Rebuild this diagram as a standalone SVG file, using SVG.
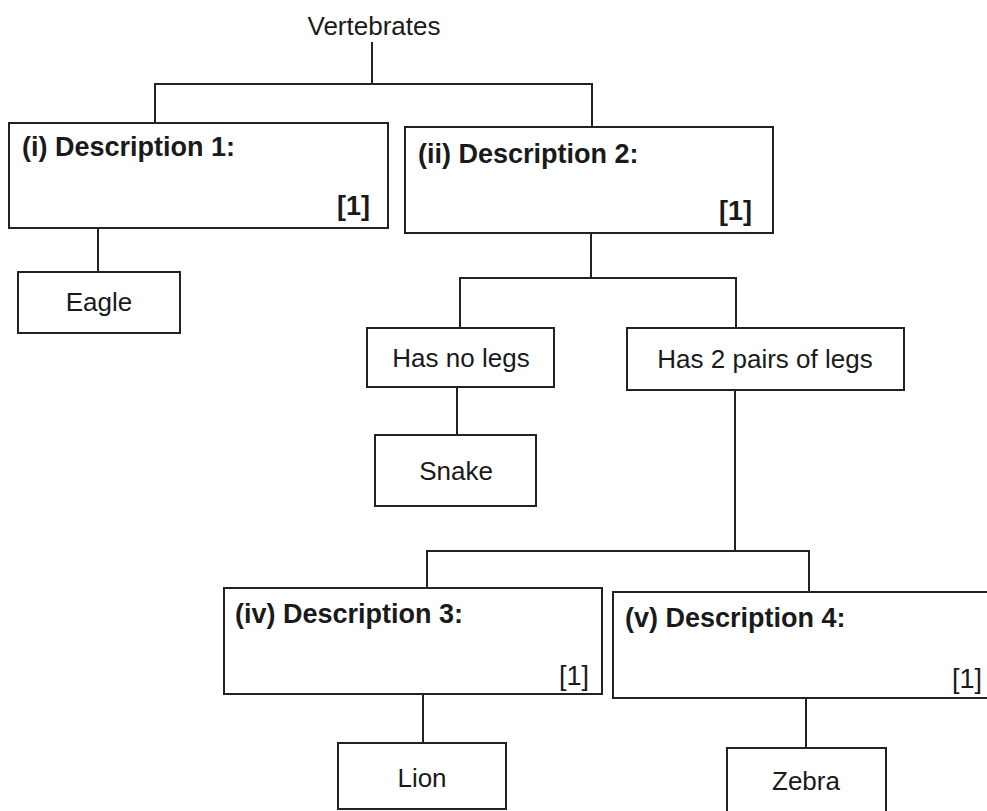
<svg xmlns="http://www.w3.org/2000/svg" width="987" height="811" viewBox="0 0 987 811">
  <style>
    .box { fill: #ffffff; stroke: #222222; stroke-width: 2; }
    .link { fill: none; stroke: #222222; stroke-width: 2; }
    .lbl { font-family: "Liberation Sans", Arial, sans-serif; font-size: 26px; fill: #1a1a1a; }
    .mid { text-anchor: middle; }
    .head { font-family: "Liberation Sans", Arial, sans-serif; font-size: 27px; font-weight: bold; fill: #1a1a1a; }
    .mark { font-family: "Liberation Sans", Arial, sans-serif; font-size: 27px; fill: #1a1a1a; text-anchor: end; }
    .b { font-weight: bold; }
  </style>
  <rect width="987" height="811" fill="#ffffff"/>

  <!-- connectors -->
  <g id="connectors">
    <path class="link" d="M372 42 V84"/>
    <path class="link" d="M155 123 V84 H592 V127"/>
    <path class="link" d="M98 228 V272"/>
    <path class="link" d="M591 233 V278"/>
    <path class="link" d="M460 328 V278 H736 V328"/>
    <path class="link" d="M457 387 V435"/>
    <path class="link" d="M735 390 V551"/>
    <path class="link" d="M427 588 V551 H809 V592"/>
    <path class="link" d="M423 694 V743"/>
    <path class="link" d="M806 698 V748"/>
  </g>

  <g id="root">
    <text class="lbl mid" x="374" y="35">Vertebrates</text>
  </g>

  <g id="desc1">
    <rect class="box" x="9" y="123" width="379" height="105"/>
    <text class="head" x="22" y="156">(i) Description 1:</text>
    <text class="mark b" x="370" y="215">[1]</text>
  </g>

  <g id="desc2">
    <rect class="box" x="405" y="127" width="368" height="106"/>
    <text class="head" x="418" y="163">(ii) Description 2:</text>
    <text class="mark b" x="752" y="220">[1]</text>
  </g>

  <g id="eagle">
    <rect class="box" x="18" y="272" width="162" height="61"/>
    <text class="lbl mid" x="99" y="311">Eagle</text>
  </g>

  <g id="no-legs">
    <rect class="box" x="367" y="328" width="187" height="59"/>
    <text class="lbl mid" x="461" y="367">Has no legs</text>
  </g>

  <g id="two-pairs">
    <rect class="box" x="627" y="328" width="277" height="62"/>
    <text class="lbl mid" x="765" y="368">Has 2 pairs of legs</text>
  </g>

  <g id="snake">
    <rect class="box" x="375" y="435" width="161" height="71"/>
    <text class="lbl mid" x="456" y="480">Snake</text>
  </g>

  <g id="desc3">
    <rect class="box" x="224" y="588" width="378" height="106"/>
    <text class="head" x="235" y="623">(iv) Description 3:</text>
    <text class="mark" x="589" y="685">[1]</text>
  </g>

  <g id="desc4">
    <rect class="box" x="613" y="592" width="390" height="106"/>
    <text class="head" x="625" y="627">(v) Description 4:</text>
    <text class="mark" x="982" y="688">[1]</text>
  </g>

  <g id="lion">
    <rect class="box" x="338" y="743" width="168" height="66"/>
    <text class="lbl mid" x="422" y="787">Lion</text>
  </g>

  <g id="zebra">
    <rect class="box" x="727" y="748" width="159" height="70"/>
    <text class="lbl mid" x="806" y="790">Zebra</text>
  </g>
</svg>
